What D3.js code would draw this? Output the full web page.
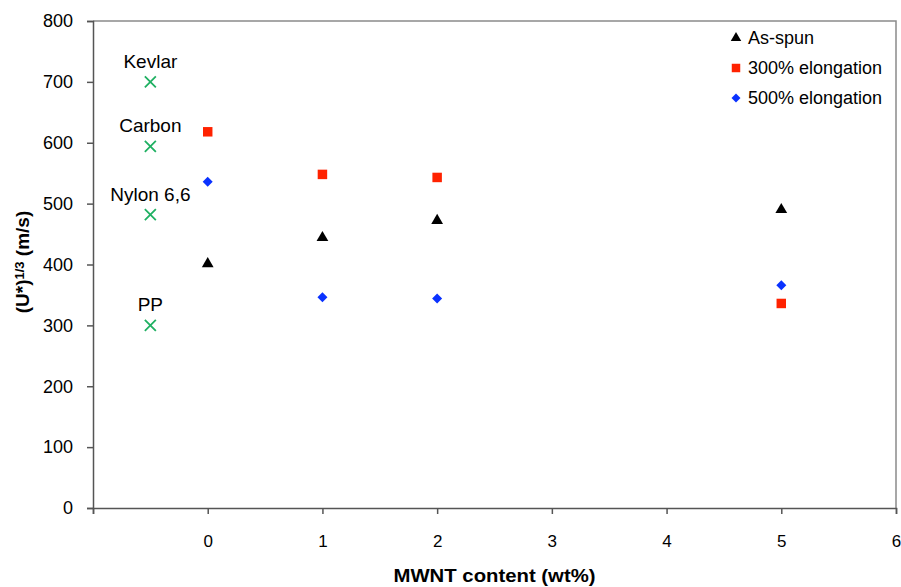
<!DOCTYPE html>
<html lang="en">
<head>
	<meta charset="UTF-8">
	<title>MWNT toughness</title>
	<style>
		body { margin: 0; background: #fff; }
		text { font-family: "Liberation Sans", Arial, sans-serif; fill: #000; }
	</style>
	<script src="https://d3js.org/d3.v7.min.js"></script>
</head>
<body>
	<script type="text/javascript">
		// data
		const mwnt = [0, 1, 2, 5];
		const asSpun = [401, 444, 472, 490];
		const elong300 = [618, 548, 543, 336];
		const elong500 = [536, 346, 344, 366];

		const refNames = ["Kevlar", "Carbon", "Nylon 6,6", "PP"];
		const refValues = [700, 594, 482, 300];
		const refX = -0.5;

		const xTicks = [-1, 0, 1, 2, 3, 4, 5, 6];
		const yTicks = [0, 100, 200, 300, 400, 500, 600, 700, 800];

		const width = 901, height = 587;
		const mLeft = 93, mRight = 896, mTop = 21, mBottom = 508;

		const svg = d3.select("body").append("svg")
			.attr("width", width)
			.attr("height", height);

		const x = d3.scaleLinear().domain([-1, 6]).range([mLeft, mRight]);
		const y = d3.scaleLinear().domain([0, 800]).range([mBottom, mTop]);

		// frame (top + right)
		svg.append("path")
			.attr("d", `M${mLeft},${mTop}H${mRight}V${mBottom}`)
			.attr("fill", "none")
			.attr("stroke", "#8a8a8a")
			.attr("stroke-width", 1.5);

		// y axis
		const yAxis = svg.append("g")
			.attr("transform", `translate(${mLeft},0)`)
			.call(d3.axisLeft(y).tickValues(yTicks).tickSize(6).tickPadding(14));
		yAxis.selectAll("text").style("font-size", "18px").attr("fill", "#000");

		// x axis
		const xAxis = svg.append("g")
			.attr("transform", `translate(0,${mBottom})`)
			.call(d3.axisBottom(x).tickValues(xTicks).tickSize(6).tickPadding(21)
				.tickFormat(d => d < 0 ? "" : d));
		xAxis.selectAll("text")
			.style("font-size", "17px")
			.attr("fill", "#000");

		svg.selectAll(".domain, .tick line")
			.attr("stroke", "#555")
			.attr("stroke-width", 1.5);

		// axis titles
		const yt = svg.append("text")
			.attr("transform", "translate(29,262) rotate(-90)")
			.attr("text-anchor", "middle")
			.style("font-size", "19px")
			.style("font-weight", "bold");
		yt.append("tspan").text("(U*)");
		yt.append("tspan").attr("dy", -5).style("font-size", "13px").text("1/3");
		yt.append("tspan").attr("dy", 5).text(" (m/s)");

		svg.append("text")
			.attr("x", (mLeft + mRight) / 2)
			.attr("y", 582)
			.attr("text-anchor", "middle")
			.attr("textLength", 202)
			.attr("lengthAdjust", "spacingAndGlyphs")
			.style("font-size", "19px")
			.style("font-weight", "bold")
			.text("MWNT content (wt%)");

		// reference fibres
		const refs = refNames.map((n, i) => ({ name: n, v: refValues[i] }));
		const green = "#1fb062";
		svg.selectAll(".ref")
			.data(refs)
			.join("path")
			.attr("class", "ref")
			.attr("transform", d => `translate(${x(refX)},${y(d.v)})`)
			.attr("d", "M-5.5,-5.5L5.5,5.5M-5.5,5.5L5.5,-5.5")
			.attr("stroke", green)
			.attr("stroke-width", 1.8)
			.attr("fill", "none");

		svg.selectAll(".reflabel")
			.data(refs)
			.join("text")
			.attr("class", "reflabel")
			.attr("x", x(refX))
			.attr("y", d => y(d.v) - 14)
			.attr("text-anchor", "middle")
			.style("font-size", "19px")
			.text(d => d.name);

		// series
		const series = [
			{ name: "As-spun", values: asSpun, color: "#000", shape: d3.symbolTriangle, size: 60, rot: 0 },
			{ name: "300% elongation", values: elong300, color: "#ff2200", shape: d3.symbolSquare, size: 90, rot: 0 },
			{ name: "500% elongation", values: elong500, color: "#0a32ff", shape: d3.symbolSquare, size: 50, rot: 45 }
		];

		series.forEach(s => {
			svg.append("g").selectAll("path")
				.data(mwnt.map((m, i) => ({ m: m, v: s.values[i] })))
				.join("path")
				.attr("transform", d => `translate(${x(d.m)},${y(d.v)}) rotate(${s.rot})`)
				.attr("d", d3.symbol().type(s.shape).size(s.size))
				.attr("fill", s.color);
		});

		// legend
		const legend = svg.append("g").selectAll("g")
			.data(series)
			.join("g")
			.attr("transform", (d, i) => `translate(736,${38 + i * 30})`);
		legend.append("path")
			.attr("transform", d => `rotate(${d.rot})`)
			.attr("d", d => d3.symbol().type(d.shape).size(d.size * 0.8)())
			.attr("fill", d => d.color);
		legend.append("text")
			.attr("x", 12)
			.attr("dy", "0.35em")
			.style("font-size", "18px")
			.text(d => d.name);
	</script>
</body>
</html>
